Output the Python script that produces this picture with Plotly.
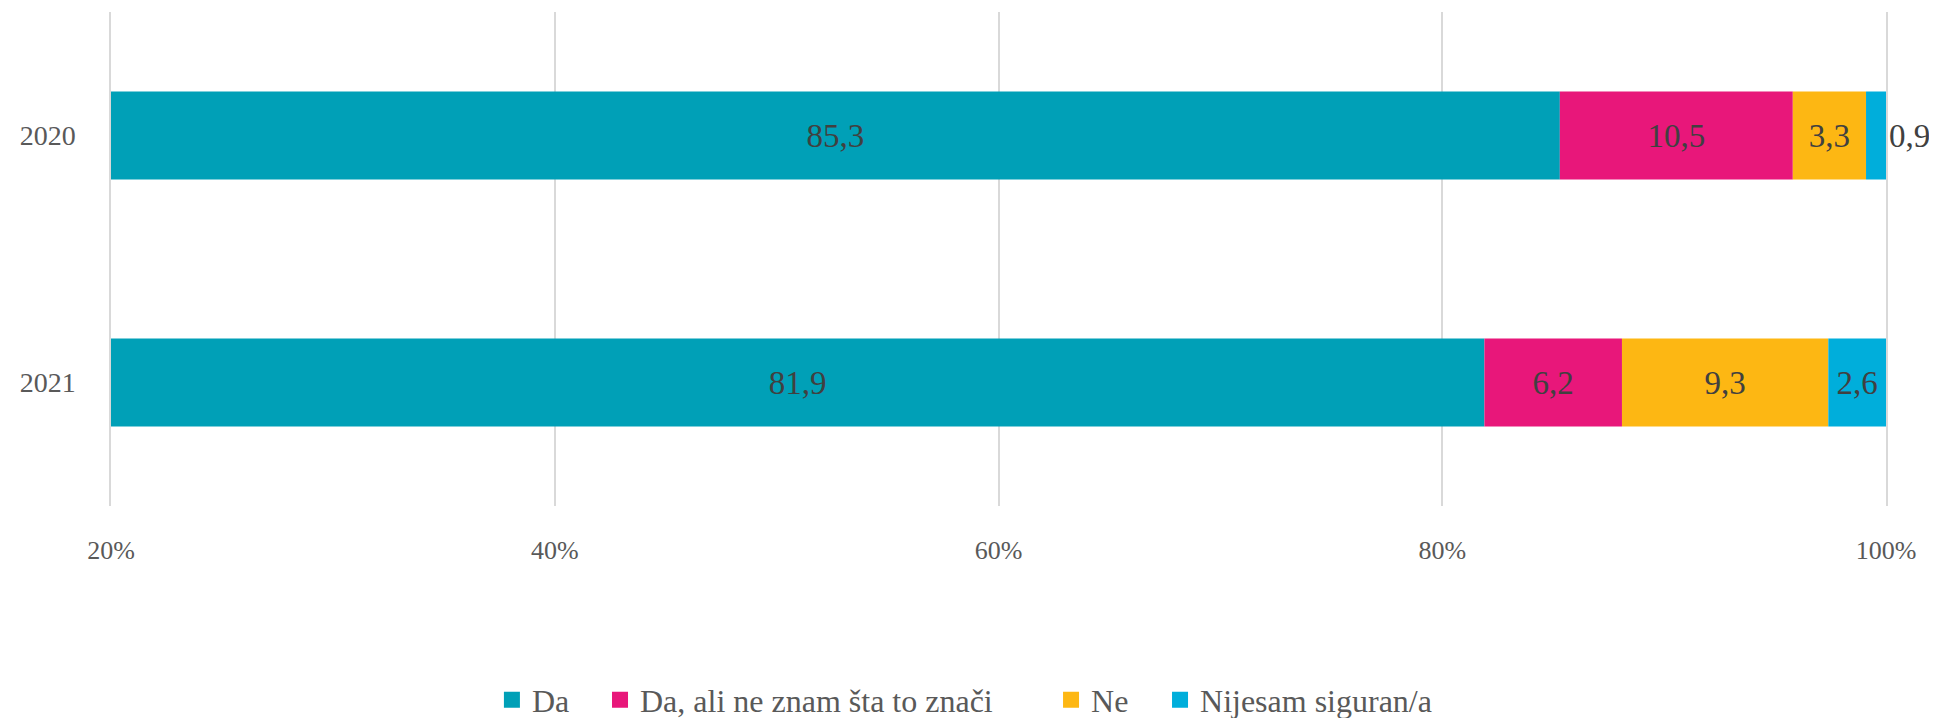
import plotly.graph_objects as go

years = ["2020", "2021"]
series_names = ["Da", "Da, ali ne znam šta to znači", "Ne", "Nijesam siguran/a"]
da = [85.3, 81.9]
da_ali = [10.5, 6.2]
ne = [3.3, 9.3]
nijesam = [0.9, 2.6]
colors = ["#00A0B7", "#E8177A", "#FDB713", "#00AEDB"]
tick_vals = [20, 40, 60, 80, 100]
tick_text = ["20%", "40%", "60%", "80%", "100%"]
axis_min = 20

FONT = "Liberation Serif"
fig = go.Figure()
cum = [0.0, 0.0]
for name, vals, col in zip(series_names, [da, da_ali, ne, nijesam], colors):
    starts = [max(c, axis_min) for c in cum]
    ends = [c + v for c, v in zip(cum, vals)]
    lengths = [e - s for s, e in zip(starts, ends)]
    tp = "inside"
    if name == "Nijesam siguran/a":
        tp = ["outside", "inside"]
    fig.add_trace(go.Bar(
        y=years, x=lengths, base=starts, name=name, orientation="h",
        customdata=vals, showlegend=False,
        marker=dict(color=col, line=dict(width=0)),
        texttemplate="%{customdata:.1f}", textposition=tp,
        insidetextanchor="middle",
        textfont=dict(family=FONT, size=33, color="#404040"),
        outsidetextfont=dict(family=FONT, size=33, color="#404040"),
        constraintext="none", cliponaxis=False,
    ))
    cum = ends

# legend entries (one legend per entry so spacing can follow the reference)
legend_ids = ["legend", "legend2", "legend3", "legend4"]
legend_x = [0.2146, 0.2755, 0.5296, 0.5910]
for name, col, lid in zip(series_names, colors, legend_ids):
    fig.add_trace(go.Scatter(
        x=[None], y=[None], mode="markers", name=name, legend=lid,
        marker=dict(symbol="square", size=18, color=col),
        showlegend=True, hoverinfo="skip",
    ))

legend_common = dict(orientation="h", yanchor="middle", y=-0.3927, xanchor="left",
                     font=dict(family=FONT, size=32, color="#595959"),
                     bgcolor="rgba(0,0,0,0)", borderwidth=0)

# the page body adds an 8px offset; size the figure so the plot lands where the reference has it
fig.update_layout(
    barmode="overlay", bargap=0.644,
    separators=", ",
    width=1929, height=710,
    margin=dict(l=103, r=51, t=4, b=212, autoexpand=False),
    paper_bgcolor="white", plot_bgcolor="white",
    font=dict(family=FONT, color="#595959"),
    xaxis=dict(range=[axis_min, 100], tickvals=tick_vals, ticktext=tick_text,
               showgrid=True, gridcolor="#D9D9D9", gridwidth=1.5,
               zeroline=False, showline=False, automargin=False,
               tickfont=dict(family=FONT, size=26, color="#595959"),
               ticklabelstandoff=26),
    yaxis=dict(autorange="reversed", showgrid=False, showline=True, mirror=True,
               linecolor="#D9D9D9", linewidth=1.5, automargin=False,
               tickfont=dict(family=FONT, size=28, color="#595959"),
               ticklabelstandoff=28),
    legend=dict(x=legend_x[0], **legend_common),
    legend2=dict(x=legend_x[1], **legend_common),
    legend3=dict(x=legend_x[2], **legend_common),
    legend4=dict(x=legend_x[3], **legend_common),
)
fig.write_html("out.html")
